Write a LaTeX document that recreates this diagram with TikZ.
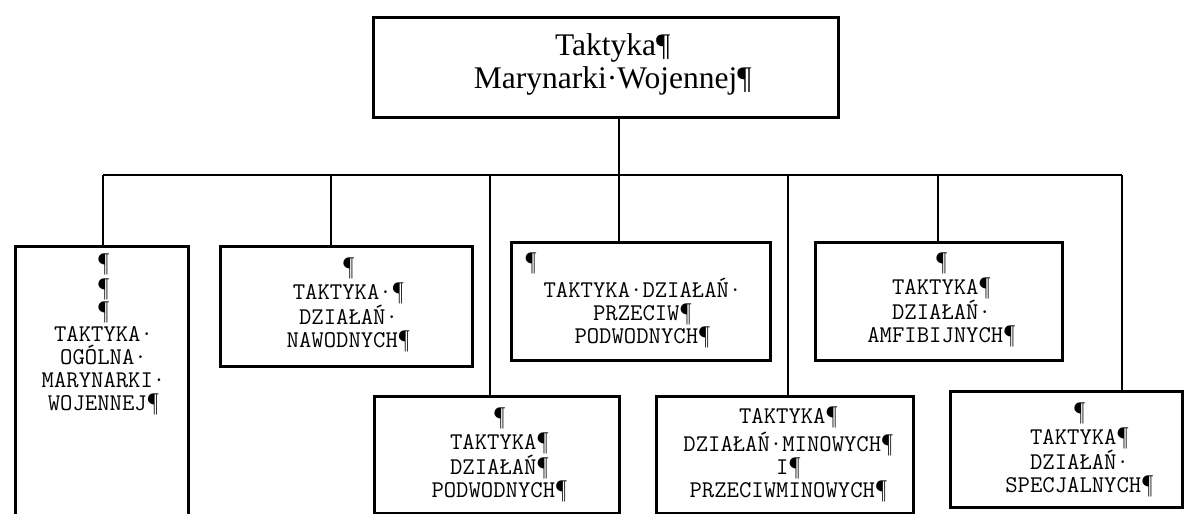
\documentclass[tikz,border=0pt]{standalone}
\usepackage{fontspec}
\setmainfont{Liberation Serif}
\newfontfamily\monofont{Latin Modern Mono}
\usetikzlibrary{positioning}
\tikzstyle{blockt} = [rectangle, draw, line width=3.5pt, inner sep=0pt, anchor=north west]
\tikzstyle{blockb} = [rectangle, draw, line width=3pt, inner sep=0pt, anchor=north west]
\tikzstyle{point} = [coordinate]
\tikzset{
	titletext/.style={align=center, inner sep=0pt, font=\fontsize{31.5}{33}\selectfont},
	boxtext/.style={align=center, inner sep=0pt, font=\monofont\fontsize{24}{23}\selectfont},
	link/.style={line width=1.2pt}
	}

\begin{document}
\begin{tikzpicture}[x=1pt, y=-1pt]
	\useasboundingbox (0,0) rectangle (1189,514);
	% frames
	\node [blockt, minimum width=465pt, minimum height=100pt] (top) at (371.5,15.5) {};
	\node [blockb, minimum width=173pt, minimum height=300pt] (ogolna) at (13.5,244.5) {};
	\node [blockb, minimum width=252pt, minimum height=120pt] (nawodnych) at (218.5,244.5) {};
	\node [blockb, minimum width=259pt, minimum height=118pt] (przeciw) at (509.5,240.5) {};
	\node [blockb, minimum width=247pt, minimum height=118pt] (amfibijnych) at (813.5,240.5) {};
	\node [blockb, minimum width=245pt, minimum height=117pt] (podwodnych) at (372.5,394.5) {};
	\node [blockb, minimum width=257pt, minimum height=117pt] (minowych) at (654.5,394.5) {};
	\node [blockb, minimum width=232pt, minimum height=116pt] (specjalnych) at (948.5,389.5) {};
	
	% texts
	\node [titletext, below=16.4pt of top.north, xshift=7pt] (ttop) {\strut Taktyka¶\\Marynarki·Wojennej¶};
	\node [boxtext, below=9.4pt of ogolna.north, xshift=2pt] (togolna) {\strut¶\\¶\\¶\\TAKTYKA·\\OGÓLNA·\\MARYNARKI·\\WOJENNEJ¶};
	\node [boxtext, below=13.4pt of nawodnych.north, xshift=2.5pt] (tnawodnych) {\strut¶\\TAKTYKA·¶\\DZIAŁAŃ·\\NAWODNYCH¶};
	\node [boxtext, below=12.4pt of przeciw.north, xshift=2pt] (tprzeciw) {\makebox[236pt][l]{\strut¶}\\TAKTYKA·DZIAŁAŃ·\\PRZECIW¶\\PODWODNYCH¶};
	\node [boxtext, below=12.4pt of amfibijnych.north, xshift=3pt] (tamfibijnych) {\strut¶\\TAKTYKA¶\\DZIAŁAŃ·\\AMFIBIJNYCH¶};
	\node [boxtext, below=13.4pt of podwodnych.north, xshift=3pt] (tpodwodnych) {\strut¶\\TAKTYKA¶\\DZIAŁAŃ¶\\PODWODNYCH¶};
	\node [boxtext, below=12.4pt of minowych.north, xshift=4pt] (tminowych) {\strut TAKTYKA¶\\DZIAŁAŃ·MINOWYCH¶\\I¶\\PRZECIWMINOWYCH¶};
	\node [boxtext, below=13.4pt of specjalnych.north, xshift=13.5pt] (tspecjalnych) {\strut¶\\TAKTYKA¶\\DZIAŁAŃ·\\SPECJALNYCH¶};
	
	% bus
	\node [point] (bogolna) at (103,175) {};
	\node [point] (bnawodnych) at (331,175) {};
	\node [point] (bpodwodnych) at (490,175) {};
	\node [point] (bprzeciw) at (619,175) {};
	\node [point] (bminowych) at (788,175) {};
	\node [point] (bamfibijnych) at (938,175) {};
	\node [point] (bspecjalnych) at (1122,175) {};
	
	\draw[link] (bogolna) -- (bspecjalnych);
	\draw[link] (top.south -| bprzeciw) -- (bprzeciw);
	\foreach \b/\n in {bogolna/ogolna, bnawodnych/nawodnych, bpodwodnych/podwodnych, bprzeciw/przeciw, bminowych/minowych, bamfibijnych/amfibijnych, bspecjalnych/specjalnych}
		\draw[link] (\b) -- (\b |- \n.north);
\end{tikzpicture}
\end{document}
